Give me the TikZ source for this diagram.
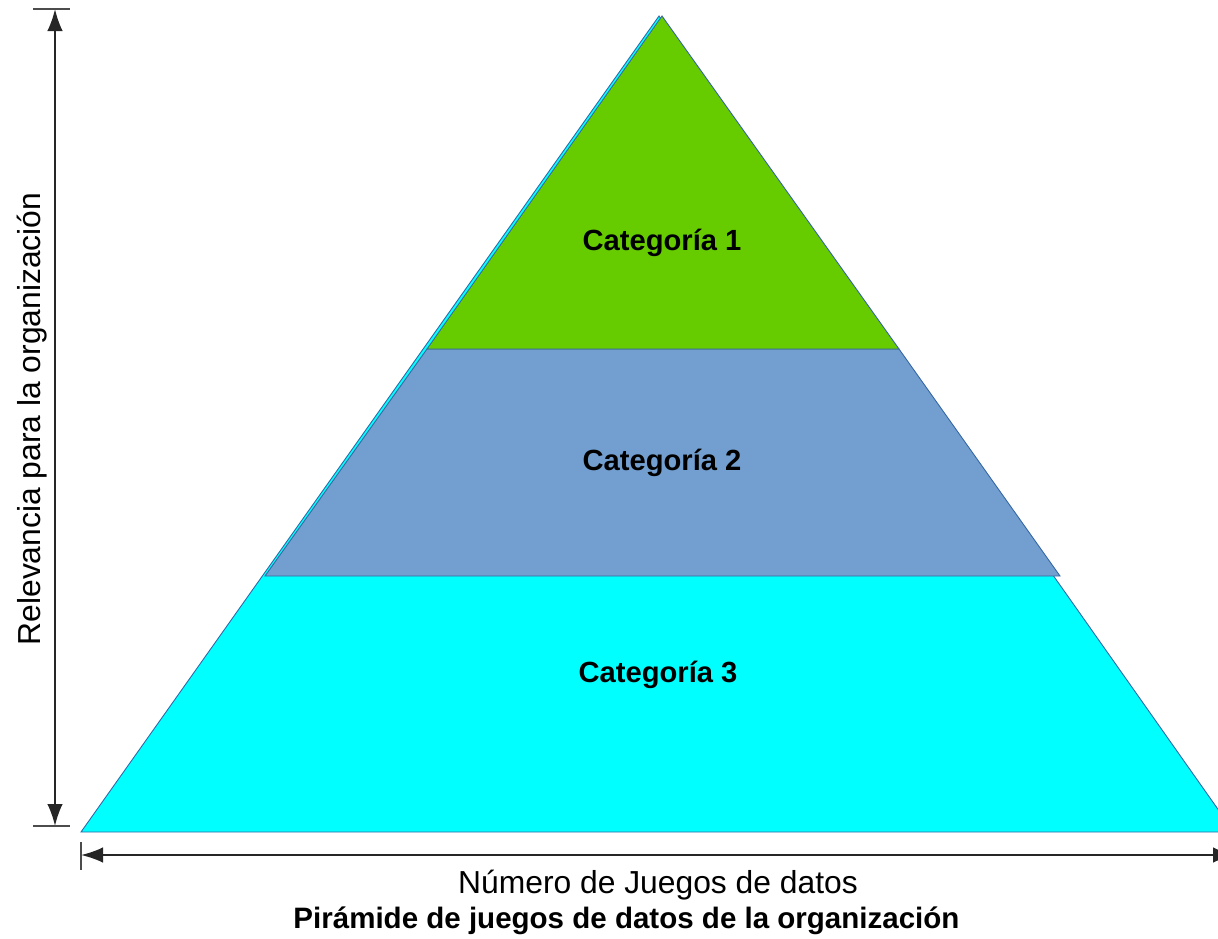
\documentclass[tikz,border=0pt]{standalone}
\usepackage{fontspec}
\setmainfont{Liberation Sans}
\usetikzlibrary{arrows.meta}
\definecolor{catone}{HTML}{66CC00}
\definecolor{cattwo}{HTML}{729FCF}
\definecolor{catthree}{HTML}{00FFFF}
\definecolor{edgeblue}{HTML}{3465A4}
\tikzset{
	band/.style={draw=edgeblue, line width=0.5pt},
	catlabel/.style={font=\fontsize{16.6}{20}\selectfont\bfseries},
	axislabel/.style={font=\fontsize{18.1}{22}\selectfont},
	dimline/.style={draw=black!85, line width=1.1pt},
	dimtick/.style={draw=black!70, line width=0.8pt}
}
\begin{document}
\begin{tikzpicture}[>={Latex[length=4.4mm,width=3.1mm]}]
				\useasboundingbox (0,0) rectangle (24.36,-18.76);
				\coordinate (apex) at (13.18,-0.32);
				\coordinate (baseL) at (1.62,-16.64);
				\coordinate (baseR) at (24.68,-16.64);
				\draw[band, fill=catthree] (apex) -- (baseL) -- (baseR) -- cycle;
				\draw[band, fill=cattwo] (8.54,-6.98) -- (17.98,-6.98) --
				(21.2,-11.52) -- (5.3,-11.52) -- cycle;
				\draw[band, fill=catone] (13.24,-0.32) -- (8.54,-6.98) --
				(17.98,-6.98) -- cycle;
				\node[catlabel] (c1) at (13.24,-4.86) {Categoría 1};
				\node[catlabel] (c2) at (13.24,-9.26) {Categoría 2};
				\node[catlabel] (c3) at (13.16,-13.5) {Categoría 3};
				\coordinate (vtop) at (1.1,-0.18);
				\coordinate (vbot) at (1.1,-16.52);
				\draw[dimline, <->] (vtop) -- (vbot);
				\draw[dimtick] ([xshift=-0.44cm]vtop) -- ([xshift=0.3cm]vtop);
				\draw[dimtick] ([xshift=-0.44cm]vbot) -- ([xshift=0.3cm]vbot);
				\node[axislabel, rotate=90] (rel) at (0.64,-8.38)
				{Relevancia para la organización};
				\coordinate (hleft) at (1.62,-17.1);
				\coordinate (hright) at (24.7,-17.1);
				\draw[dimline, <->] (hleft) -- (hright);
				\draw[dimtick] ([yshift=0.26cm]hleft) -- ([yshift=-0.3cm]hleft);
				\node[axislabel] (num) at (13.16,-17.7) {Número de Juegos de datos};
				\node[font=\fontsize{16.8}{20}\selectfont\bfseries] (title)
				at (12.53,-18.42) {Pirámide de juegos de datos de la organización};
\end{tikzpicture}
\end{document}
